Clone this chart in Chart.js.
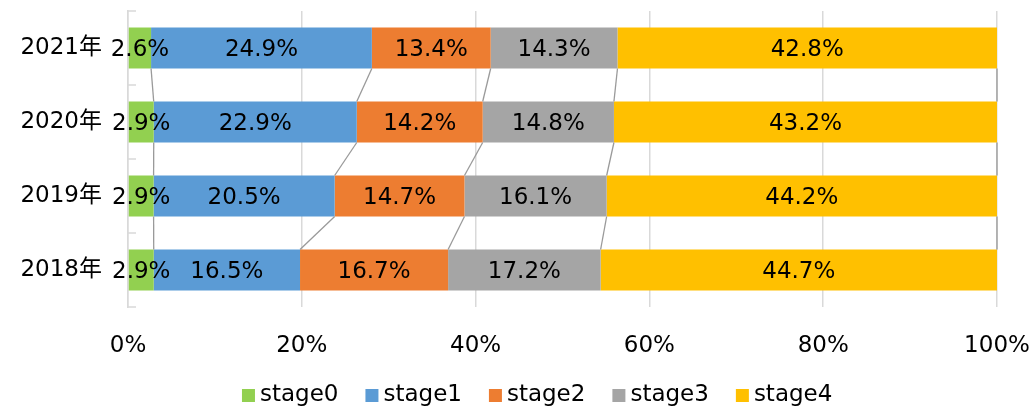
<!DOCTYPE html>
<html>
<head>
<meta charset="utf-8">
<script src="https://cdn.jsdelivr.net/npm/chart.js@4"></script>
<style>
  html, body { margin: 0; padding: 0; background: #fff; }
  #wrap { width: 1033px; height: 410px; }
</style>
</head>
<body>
<div id="wrap"><canvas id="myChart"></canvas></div>
<script>
// stage share per year (%)
const years = ['2021年', '2020年', '2019年', '2018年'];
const stage0 = [2.6, 2.9, 2.9, 2.9];
const stage1 = [24.9, 22.9, 20.5, 16.5];
const stage2 = [13.4, 14.2, 14.7, 16.7];
const stage3 = [14.3, 14.8, 16.1, 17.2];
const stage4 = [42.8, 43.2, 44.2, 44.7];
const stageNames = ['stage0', 'stage1', 'stage2', 'stage3', 'stage4'];
const stageColors = ['#92d050', '#5b9bd5', '#ed7d31', '#a5a5a5', '#ffc000'];
const xTickStep = 20;

const FONT = "'DejaVu Sans', 'Noto Sans CJK JP', sans-serif";
const FONT_SIZE = 23;

// rows don't add up to exactly 100, so scale each year like a 100% stacked bar
const raw = [stage0, stage1, stage2, stage3, stage4];
const totals = years.map((y, i) => raw.reduce((s, arr) => s + arr[i], 0));

const datasets = raw.map((arr, k) => ({
  label: stageNames[k],
  data: arr.map((v, i) => v / totals[i] * 100),
  raw: arr,
  backgroundColor: stageColors[k],
  borderWidth: 0,
  categoryPercentage: 1,
  barPercentage: 0.554
}));

// connector lines between bars + value labels
const barExtras = {
  id: 'barExtras',
  afterDatasetsDraw(chart) {
    const ctx = chart.ctx;
    ctx.save();
    ctx.strokeStyle = '#9a9a9a';
    ctx.lineWidth = 1.3;
    chart.data.datasets.forEach((ds, k) => {
      const bars = chart.getDatasetMeta(k).data;
      for (let i = 0; i < bars.length - 1; i++) {
        const a = bars[i], b = bars[i + 1];
        ctx.beginPath();
        ctx.moveTo(a.x, a.y + a.height / 2);
        ctx.lineTo(b.x, b.y - b.height / 2);
        ctx.stroke();
      }
    });

    ctx.fillStyle = '#000';
    ctx.font = FONT_SIZE + 'px ' + FONT;
    ctx.textAlign = 'center';
    ctx.textBaseline = 'middle';
    chart.data.datasets.forEach((ds, k) => {
      chart.getDatasetMeta(k).data.forEach((bar, i) => {
        ctx.fillText(ds.raw[i].toFixed(1) + '%', (bar.x + bar.base) / 2, bar.y + 2);
      });
    });

    // small inward tick marks on the category axis
    const yScale = chart.scales.y;
    const left = chart.chartArea.left;
    ctx.strokeStyle = '#d9d9d9';
    ctx.lineWidth = 1.5;
    for (let i = 0; i <= years.length; i++) {
      const y = Math.round(yScale.getPixelForValue(i - 0.5));
      ctx.beginPath();
      ctx.moveTo(left, y);
      ctx.lineTo(left + 8, y);
      ctx.stroke();
    }
    ctx.restore();
  }
};

// legend drawn by hand so the gap between swatch and text stays tight
const legendRow = {
  id: 'legendRow',
  afterDraw(chart) {
    const ctx = chart.ctx;
    const box = 13, textGap = 5, itemGap = 27;
    const centerX = chart.width * 0.52;
    const baseY = chart.height - 9;
    ctx.save();
    ctx.font = FONT_SIZE + 'px ' + FONT;
    ctx.textAlign = 'left';
    ctx.textBaseline = 'alphabetic';
    const widths = stageNames.map(n => ctx.measureText(n).width);
    const total = widths.reduce((s, w) => s + box + textGap + w, 0) + itemGap * (stageNames.length - 1);
    let x = centerX - total / 2;
    stageNames.forEach((name, k) => {
      ctx.fillStyle = stageColors[k];
      ctx.fillRect(x, baseY - 12, box, box);
      x += box + textGap;
      ctx.fillStyle = '#000';
      ctx.fillText(name, x, baseY);
      x += widths[k] + itemGap;
    });
    ctx.restore();
  }
};

const ctx = document.getElementById('myChart');
new Chart(ctx, {
  type: 'bar',
  data: { labels: years, datasets: datasets },
  plugins: [barExtras, legendRow],
  options: {
    indexAxis: 'y',
    responsive: true,
    maintainAspectRatio: false,
    animation: false,
    layout: { padding: { top: 11, right: 36, bottom: 53, left: 0 } },
    plugins: {
      legend: { display: false },
      tooltip: { enabled: false }
    },
    scales: {
      x: {
        stacked: true,
        min: 0,
        max: 100,
        afterFit: scale => {
          scale.height = 50;
          scale.paddingLeft = 0;
          scale.paddingRight = 0;
        },
        ticks: {
          stepSize: xTickStep,
          padding: 25,
          maxRotation: 0,
          color: '#000',
          font: { family: FONT, size: FONT_SIZE },
          callback: v => v + '%'
        },
        grid: { color: '#d9d9d9', lineWidth: 1.5, drawTicks: false },
        border: { display: false }
      },
      y: {
        stacked: true,
        afterFit: scale => {
          scale.width = 128;
          scale.paddingTop = 0;
          scale.paddingBottom = 0;
        },
        ticks: {
          padding: 26,
          color: '#000',
          font: { family: FONT, size: FONT_SIZE }
        },
        grid: { display: false, drawTicks: false },
        border: { display: true, color: '#d9d9d9', width: 1.5 }
      }
    }
  }
});
</script>
</body>
</html>
